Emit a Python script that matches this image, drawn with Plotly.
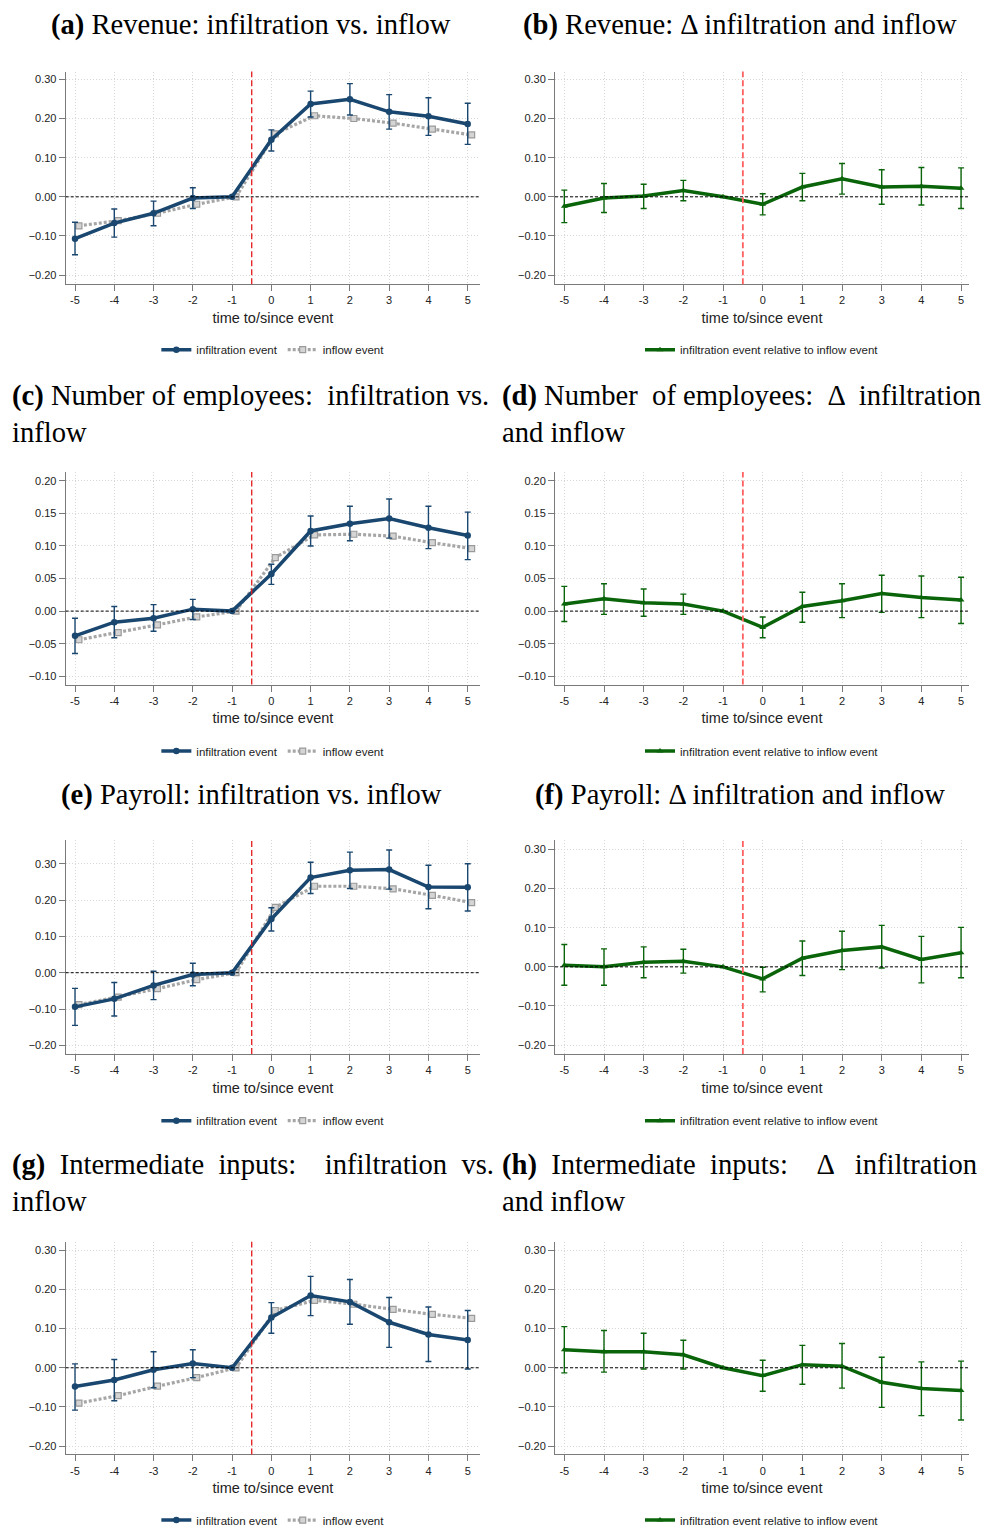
import plotly.graph_objects as go

# ---------------- data ----------------
t = [-5, -4, -3, -2, -1, 0, 1, 2, 3, 4, 5]

# (a) Revenue
rev_inf = [-0.107, -0.067, -0.042, -0.003, 0.0, 0.146, 0.237, 0.249, 0.217, 0.206, 0.186]
rev_inf_hi = [-0.065, -0.031, -0.011, 0.023, None, 0.171, 0.270, 0.289, 0.261, 0.253, 0.239]
rev_inf_lo = [-0.148, -0.103, -0.074, -0.030, None, 0.117, 0.204, 0.209, 0.173, 0.157, 0.134]
rev_flow = [-0.074, -0.061, -0.042, -0.019, 0.0, 0.161, 0.207, 0.200, 0.188, 0.173, 0.158]
# (b) Revenue difference
rev_diff = [-0.024, -0.003, 0.002, 0.016, 0.0, -0.019, 0.025, 0.046, 0.025, 0.027, 0.022]
rev_diff_hi = [0.017, 0.034, 0.032, 0.042, None, 0.008, 0.060, 0.085, 0.069, 0.075, 0.074]
rev_diff_lo = [-0.066, -0.040, -0.030, -0.010, None, -0.046, -0.010, 0.007, -0.019, -0.021, -0.030]

# (c) Number of employees
emp_inf = [-0.038, -0.017, -0.011, 0.003, 0.0, 0.057, 0.123, 0.134, 0.142, 0.128, 0.116]
emp_inf_hi = [-0.011, 0.007, 0.010, 0.018, None, 0.072, 0.146, 0.161, 0.172, 0.161, 0.152]
emp_inf_lo = [-0.065, -0.041, -0.031, -0.013, None, 0.041, 0.100, 0.108, 0.112, 0.096, 0.079]
emp_flow = [-0.044, -0.033, -0.021, -0.009, 0.0, 0.082, 0.117, 0.118, 0.115, 0.105, 0.096]
# (d) Number of employees difference
emp_diff = [0.011, 0.019, 0.013, 0.011, 0.0, -0.025, 0.007, 0.016, 0.027, 0.021, 0.017]
emp_diff_hi = [0.038, 0.042, 0.034, 0.026, None, -0.009, 0.029, 0.042, 0.055, 0.054, 0.052]
emp_diff_lo = [-0.016, -0.005, -0.008, -0.005, None, -0.041, -0.017, -0.010, -0.002, -0.010, -0.019]

# (e) Payroll
pay_inf = [-0.094, -0.072, -0.035, -0.005, 0.0, 0.148, 0.262, 0.282, 0.284, 0.236, 0.235]
pay_inf_hi = [-0.043, -0.027, 0.004, 0.026, None, 0.179, 0.304, 0.332, 0.338, 0.296, 0.300]
pay_inf_lo = [-0.145, -0.119, -0.074, -0.036, None, 0.115, 0.218, 0.232, 0.230, 0.176, 0.170]
pay_flow = [-0.088, -0.067, -0.044, -0.019, 0.0, 0.180, 0.238, 0.238, 0.231, 0.213, 0.193]
# (f) Payroll difference
pay_diff = [0.004, 0.0, 0.012, 0.014, 0.0, -0.031, 0.022, 0.042, 0.051, 0.019, 0.036]
pay_diff_hi = [0.057, 0.046, 0.051, 0.045, None, -0.001, 0.066, 0.091, 0.106, 0.078, 0.101]
pay_diff_lo = [-0.047, -0.047, -0.028, -0.016, None, -0.064, -0.022, -0.007, -0.003, -0.041, -0.028]

# (g) Intermediate inputs
int_inf = [-0.048, -0.031, -0.005, 0.011, 0.0, 0.128, 0.184, 0.168, 0.116, 0.085, 0.071]
int_inf_hi = [0.010, 0.021, 0.041, 0.046, None, 0.166, 0.233, 0.225, 0.179, 0.155, 0.146]
int_inf_lo = [-0.108, -0.084, -0.051, -0.025, None, 0.088, 0.133, 0.111, 0.052, 0.016, -0.003]
int_flow = [-0.090, -0.071, -0.047, -0.025, 0.0, 0.146, 0.172, 0.162, 0.149, 0.136, 0.126]
# (h) Intermediate inputs difference
int_diff = [0.046, 0.041, 0.041, 0.033, 0.0, -0.020, 0.008, 0.004, -0.037, -0.053, -0.058]
int_diff_hi = [0.105, 0.095, 0.088, 0.070, None, 0.019, 0.057, 0.062, 0.027, 0.015, 0.017]
int_diff_lo = [-0.013, -0.011, -0.003, -0.003, None, -0.060, -0.042, -0.052, -0.101, -0.122, -0.133]

NB = "\u00a0"   # no-break space (used to emulate justified title lines)
titles = [
    "<b>(a)</b> Revenue: infiltration vs. inflow",
    "<b>(b)</b> Revenue: \u0394 infiltration and inflow",
    f"<b>(c)</b> Number of employees: {NB}infiltration vs.<br>inflow",
    f"<b>(d)</b> Number {NB}of employees: {NB}\u0394 {NB}infiltration<br>and inflow",
    "<b>(e)</b> Payroll: infiltration vs. inflow",
    "<b>(f)</b> Payroll: \u0394 infiltration and inflow",
    f"<b>(g)</b> {NB}Intermediate {NB}inputs: {NB}{NB} infiltration {NB}vs.<br>inflow",
    f"<b>(h)</b> {NB}Intermediate {NB}inputs: {NB}{NB} \u0394 {NB}{NB}infiltration<br>and inflow",
]
ytick_wide = [-0.20, -0.10, 0.00, 0.10, 0.20, 0.30]
ytick_emp = [-0.10, -0.05, 0.00, 0.05, 0.10, 0.15, 0.20]
xlabel = "time to/since event"
leg_inf = "infiltration event"
leg_flow = "inflow event"
leg_diff = "infiltration event relative to inflow event"

# ---------------- style ----------------
W, H = 983, 1535
NAVY = "#1a476f"
GRAY = "#a6a6a6"
GREEN = "#0a640a"
SANS = "Liberation Sans, Arial, sans-serif"
SERIF = "Liberation Serif, Times New Roman, serif"
FLOW_SHIFT = 0.1
TITLE_SIZE = 28.6


def px_y(p):
    return 1 - p / H


def px_x(p):
    return p / W


def err(v, hi, lo):
    up = [(h - x) if h is not None else 0 for x, h in zip(v, hi)]
    dn = [(x - l) if l is not None else 0 for x, l in zip(v, lo)]
    return up, dn


# panel geometry (pixels)
col_x = [(65.7, 480.0), (555.0, 969.0)]
row_y = [(72, 286), (475, 689), (846, 1061), (1250, 1464)]
xranges = [(-5.237, 5.313), (-5.235, 5.2)]
yranges = [
    (-0.223, 0.320), (-0.223, 0.320),
    (-0.1127, 0.2137), (-0.1127, 0.2137),
    (-0.224, 0.364), (-0.223, 0.323),
    (-0.221, 0.321), (-0.221, 0.321),
]
legend_y = [352, 756, 1128, 1530]
title_rows = [25, 397, 800, 1172]

panels = [
    ("pair", rev_inf, rev_inf_hi, rev_inf_lo, rev_flow),
    ("diff", rev_diff, rev_diff_hi, rev_diff_lo),
    ("pair", emp_inf, emp_inf_hi, emp_inf_lo, emp_flow),
    ("diff", emp_diff, emp_diff_hi, emp_diff_lo),
    ("pair", pay_inf, pay_inf_hi, pay_inf_lo, pay_flow),
    ("diff", pay_diff, pay_diff_hi, pay_diff_lo),
    ("pair", int_inf, int_inf_hi, int_inf_lo, int_flow),
    ("diff", int_diff, int_diff_hi, int_diff_lo),
]
red_line = [True, True, True, True, True, True, True, False]

fig = go.Figure()
layout = dict(
    width=W, height=H, margin=dict(l=0, r=0, t=0, b=0),
    paper_bgcolor="white", plot_bgcolor="white",
    font=dict(family=SANS, color="#222222", size=11),
    showlegend=True,
)
shapes = []
annotations = []

for i, p in enumerate(panels):
    k = i + 1
    r, c = divmod(i, 2)
    xa = "x" if k == 1 else f"x{k}"
    ya = "y" if k == 1 else f"y{k}"
    lg = "legend" if k == 1 else f"legend{k}"
    x0, x1 = col_x[c]
    ytop, ybot = row_y[r]
    yt = ytick_emp if r == 1 else ytick_wide
    axcommon = dict(
        showline=True, linecolor="#7a7a7a", linewidth=1,
        ticks="outside", ticklen=6, tickcolor="#7a7a7a",
        showgrid=True, gridcolor="#d6d6d6", griddash="1px,2px", gridwidth=1,
        zeroline=False, tickfont=dict(family=SANS, size=11, color="#222222"),
    )
    layout["xaxis" if k == 1 else f"xaxis{k}"] = dict(
        axcommon, domain=[px_x(x0), px_x(x1)], anchor=ya,
        range=list(xranges[c]), tickvals=t, ticktext=[str(v) for v in t],
        title=dict(text=xlabel, font=dict(family=SANS, size=14.5, color="#222222"), standoff=7),
    )
    layout["yaxis" if k == 1 else f"yaxis{k}"] = dict(
        axcommon, domain=[px_y(ybot), px_y(ytop)], anchor=xa,
        range=list(yranges[i]), tickvals=yt, tickformat=".2f",
    )
    layout[lg] = dict(
        orientation="h", x=(x0 + x1) / 2 / W, xanchor="center",
        y=px_y(legend_y[r]), yanchor="middle", bgcolor="rgba(0,0,0,0)",
        font=dict(family=SANS, size=11.5, color="#222222"), itemwidth=30,
        tracegroupgap=0,
    )

    if p[0] == "pair":
        _, v, hi, lo, fl = p
        up, dn = err(v, hi, lo)
        fig.add_trace(go.Scatter(
            x=[tt + FLOW_SHIFT for tt in t], y=fl, mode="lines+markers", name=leg_flow,
            line=dict(color=GRAY, width=3.2, dash="3px,2px"),
            marker=dict(symbol="square", size=6, color="#d4d4d4", line=dict(color="#9a9a9a", width=1.2)),
            xaxis=xa, yaxis=ya, legend=lg, legendrank=2,
        ))
        fig.add_trace(go.Scatter(
            x=t, y=v, mode="lines+markers", name=leg_inf,
            line=dict(color=NAVY, width=3.5),
            marker=dict(symbol="circle", size=6.5, color=NAVY),
            error_y=dict(type="data", array=up, arrayminus=dn, symmetric=False,
                         color=NAVY, thickness=1.4, width=3),
            xaxis=xa, yaxis=ya, legend=lg, legendrank=1,
        ))
    else:
        _, v, hi, lo = p
        up, dn = err(v, hi, lo)
        fig.add_trace(go.Scatter(
            x=t, y=v, mode="lines+markers", name=leg_diff,
            line=dict(color=GREEN, width=3.5),
            marker=dict(symbol="triangle-up", size=6, color=GREEN),
            error_y=dict(type="data", array=up, arrayminus=dn, symmetric=False,
                         color=GREEN, thickness=1.4, width=3),
            xaxis=xa, yaxis=ya, legend=lg,
        ))

    # zero reference line
    shapes.append(dict(type="line", xref=f"{xa} domain", yref=ya, x0=0, x1=1, y0=0, y1=0,
                       line=dict(color="black", width=1, dash="3px,2px"), layer="above"))
    # event line
    if red_line[i]:
        col = "#e41a1c" if c == 0 else "#ff6060"
        shapes.append(dict(type="line", xref=xa, yref=f"{ya} domain", x0=-0.5, x1=-0.5, y0=0, y1=1,
                           line=dict(color=col, width=1.3 if c == 0 else 1.8, dash="6px,3px"), layer="above"))

    # title
    if r in (1, 3):
        annotations.append(dict(
            text=titles[i], xref="paper", yref="paper",
            x=px_x(10 if c == 0 else 500), xanchor="left",
            y=px_y(title_rows[r] - 17), yanchor="top", align="left",
            showarrow=False, font=dict(family=SERIF, size=TITLE_SIZE, color="black"),
        ))
    else:
        annotations.append(dict(
            text=titles[i], xref="paper", yref="paper",
            x=px_x(251 if c == 0 else 740), xanchor="center",
            y=px_y(title_rows[r]), yanchor="middle",
            showarrow=False, font=dict(family=SERIF, size=TITLE_SIZE, color="black"),
        ))

layout["shapes"] = shapes
layout["annotations"] = annotations
fig.update_layout(**layout)
fig.write_html("out.html")
